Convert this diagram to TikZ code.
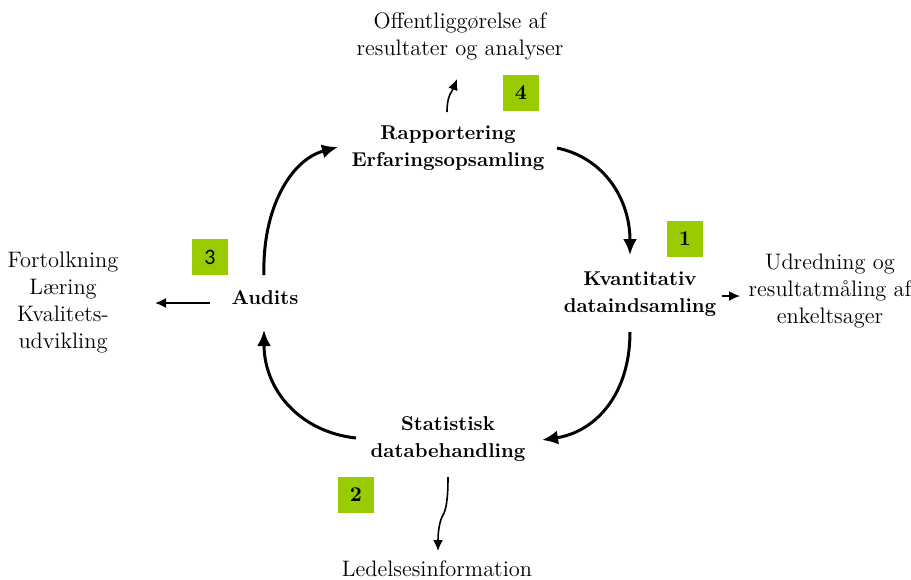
\documentclass[tikz,border=0pt]{standalone}
\usepackage{fontspec}
\newfontfamily\numsans{Carlito}
\usetikzlibrary{arrows.meta}
\definecolor{boxgreen}{RGB}{153,204,0}
\begin{document}
\begin{tikzpicture}[x=0.5pt,y=-0.5pt,
  lbl/.style={align=center,font=\fontsize{11.2}{13.5}\selectfont,inner sep=0pt},
  blbl/.style={align=center,font=\fontsize{10}{13.5}\selectfont\bfseries,inner sep=0pt},
  numbox/.style={fill=boxgreen,minimum size=18pt,inner sep=0pt,font=\fontsize{10.5}{12}\selectfont\bfseries},
  cyc/.style={line width=1.5pt,-{Latex[length=8pt,width=7pt]}},
  thin/.style={line width=0.8pt,-{Latex[length=5.5pt,width=5pt]}}]
\useasboundingbox (0,0) rectangle (911,579);

\node[lbl] (off) at (460,36) {Offentliggørelse af\\resultater og analyser};
\node[blbl] (rap) at (448,148) {Rapportering\\Erfaringsopsamling};
\node[blbl] (kv) at (640,294) {Kvantitativ\\dataindsamling};
\node[lbl] (udr) at (830,291) {Udredning og\\resultatmåling af\\enkeltsager};
\node[blbl] (stat) at (448,439) {Statistisk\\databehandling};
\node[lbl] (led) at (437,569) {Ledelsesinformation};
\node[blbl] (aud) at (265,298) {Audits};
\node[lbl] (fort) at (63,303) {Fortolkning\\Læring\\Kvalitets-\\udvikling};

\node[numbox] (n4) at (521,93) {4};
\node[numbox] (n1) at (685,239) {1};
\node[numbox] (n2) at (356,495) {2};
\node[numbox,font=\fontsize{11}{12}\selectfont\numsans] (n3) at (210,257) {3};

% cycle arcs
\draw[cyc] ([shift={(109,0)}]rap.center) .. controls (605,158) and (630,200) .. ([shift={(-10,-39)}]kv.center);
\draw[cyc] ([shift={(-10,38)}]kv.center) .. controls (630,395) and (595,432) .. ([shift={(94,1)}]stat.center);
\draw[cyc] ([shift={(-92,-1)}]stat.center) .. controls (300,432) and (264,390) .. ([shift={(-1,32)}]aud.center);
\draw[cyc] ([shift={(-1,-23)}]aud.center) .. controls (262,210) and (290,160) .. ([shift={(-110,-1)}]rap.center);

% outputs
\draw[thin] ([shift={(-1,-36)}]rap.center) .. controls (447,95) and (452,92) .. ([shift={(-3,43)}]off.center);
\draw[thin] ([shift={(82,2)}]kv.center) -- ([shift={(-90,5)}]udr.center);
\draw[thin] ([shift={(-55,5)}]aud.center) -- ([shift={(92,0)}]fort.center);
\draw[thin] ([shift={(0,38)}]stat.center) .. controls (448,500) and (446,510) .. (443,515) .. controls (440,520) and (438,530) .. ([shift={(1,-18)}]led.center);
\end{tikzpicture}
\end{document}
